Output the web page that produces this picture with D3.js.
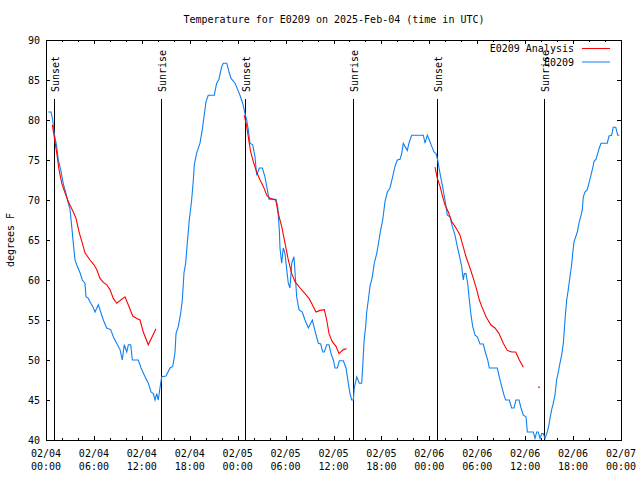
<!DOCTYPE html>
<html>
<head>
<meta charset="utf-8">
<script src="https://cdn.jsdelivr.net/npm/d3@7"></script>
<style>
  html, body { margin: 0; padding: 0; background: #fff; }
  svg { display: block; }
  text { font-family: "DejaVu Sans Mono", "Liberation Mono", monospace; font-size: 10px; fill: #000; }
</style>
</head>
<body>
<svg id="chart" width="640" height="480"></svg>
<script>
// ---- data (hours since 2025-02-04 00:00 UTC, degrees F) ----
const title = "Temperature for E0209 on 2025-Feb-04 (time in UTC)";
const yLabel = "degrees F";
const seriesNames = ["E0209 Analysis", "E0209"];

const xTickHours = [0, 6, 12, 18, 24, 30, 36, 42, 48, 54, 60, 66, 72];
const xTickDates = ["02/04","02/04","02/04","02/04","02/05","02/05","02/05","02/05","02/06","02/06","02/06","02/06","02/07"];
const xTickTimes = ["00:00","06:00","12:00","18:00","00:00","06:00","12:00","18:00","00:00","06:00","12:00","18:00","00:00"];
const yTicks = [40, 45, 50, 55, 60, 65, 70, 75, 80, 85, 90];

const sunEvents = [
  [1.04, "Sunset"], [14.44, "Sunrise"],
  [24.96, "Sunset"], [38.48, "Sunrise"],
  [49.0, "Sunset"], [62.4, "Sunrise"]
];

// observed (blue)
const observed = [
  [0.29,81],[0.63,81],[0.84,80],[1.00,78.5],[1.34,76.7],[1.54,75],[1.84,73.8],[2.17,72],[2.50,70.8],[2.79,69.6],
  [3.01,68.8],[3.22,66.7],[3.42,64.6],[3.63,62.5],[3.84,61.9],[4.26,60.9],[4.55,60],[4.88,59.6],[5.01,57.9],[5.30,57.7],
  [5.60,57.1],[5.85,56.7],[6.14,56],[6.55,56.9],[6.85,56],[7.18,55],[7.60,54],[8.10,53.8],[8.43,52.9],[8.85,52.1],
  [9.27,51.3],[9.55,50],[9.80,51.9],[10.11,51],[10.31,51.9],[10.61,51.9],[10.81,50],[11.56,50],[11.90,49],[12.40,47.9],
  [12.81,47.1],[13.15,46],[13.44,45.8],[13.65,45],[13.86,45.8],[14.06,45],[14.27,46.5],[14.49,47.9],[15.03,48],[15.53,49],
  [15.87,49.2],[16.15,50.9],[16.28,53.3],[16.57,54.2],[16.87,55.9],[17.07,57.5],[17.28,60.9],[17.49,62.1],[17.69,64.6],[17.94,67.5],
  [18.24,70],[18.45,72.5],[18.57,74.4],[18.87,75.9],[19.28,77.1],[19.57,78.8],[19.78,80.4],[20.04,82.3],[20.32,83.1],[21.07,83.1],
  [21.37,84.6],[21.66,85.1],[22.00,86.7],[22.20,87.1],[22.63,87.1],[22.92,86],[23.17,85.2],[23.67,84.6],[24.00,83.8],[24.29,83.1],
  [24.63,82.1],[24.92,80.8],[25.13,80],[25.33,78.8],[25.54,77.1],[25.88,76.9],[26.17,75.4],[26.38,73.1],[26.71,74],[27.09,74],
  [27.42,72.9],[27.71,71.3],[27.92,70.1],[28.80,70.1],[29.01,69.2],[29.21,66.3],[29.30,64],[29.51,62.1],[29.71,64],[29.93,63.3],
  [30.14,61.3],[30.34,59.6],[30.55,59],[30.77,62.1],[31.05,62.9],[31.22,60.4],[31.39,57.9],[31.68,56.3],[32.09,56],[32.43,55],
  [32.85,54],[33.35,55],[33.77,53.3],[34.10,52.1],[34.40,52],[34.65,51],[34.85,51],[35.15,51.9],[35.44,51.9],[35.69,50.8],
  [35.98,50],[36.19,49],[36.48,49],[36.73,49.9],[37.23,49.9],[37.57,49],[37.85,47.1],[38.07,45.8],[38.28,45],[38.48,45],
  [38.60,46.5],[38.91,47.9],[39.23,47.1],[39.53,47.1],[39.66,49.2],[39.82,52.3],[40.03,54.2],[40.16,56],[40.36,57.5],[40.57,59.2],
  [40.86,60.4],[41.11,62.1],[41.41,63.3],[41.70,65],[41.91,66.3],[42.16,67.5],[42.45,69.8],[42.74,71],[43.07,71.5],[43.36,72.7],
  [43.70,74.2],[43.99,75],[44.33,75.1],[44.54,75.8],[44.74,77.1],[44.95,76.7],[45.24,76.2],[45.45,77.1],[45.79,78.1],[47.25,78.1],
  [47.46,77.1],[47.75,78.1],[48.00,77.5],[48.30,76.7],[48.59,76],[48.84,75.8],[49.05,75],[49.34,73.3],[49.62,71.9],[49.96,70],
  [50.25,68.1],[50.59,67.9],[50.88,66.7],[51.21,65.6],[51.50,64.2],[51.75,63.1],[52.05,61.7],[52.25,60],[52.38,60.8],[52.59,60.8],
  [52.80,59.6],[53.01,57.5],[53.22,55.6],[53.43,54.2],[53.72,53.1],[54.01,52.9],[54.35,52],[54.76,52],[55.06,50.8],[55.31,50],
  [55.51,49],[56.51,49],[56.76,47.9],[57.06,46.7],[57.35,45.6],[57.56,45],[58.01,45],[58.31,44],[58.60,44],[58.85,45],
  [59.23,45],[59.48,44],[59.77,43.1],[60.11,42.9],[60.27,41],[61.02,41],[61.23,40.2],[61.44,41],[61.64,41],[61.86,40.2],
  [62.07,40.8],[62.27,40.8],[62.48,40.2],[62.70,40.8],[62.90,41.5],[63.11,42.7],[63.32,43.8],[63.52,44.6],[63.73,45.6],[63.94,47.5],
  [64.15,48.5],[64.36,49.6],[64.57,50.6],[64.78,52.1],[64.99,55],[65.20,57.5],[65.40,58.8],[65.61,60.4],[65.82,61.9],[65.95,63.3],
  [66.12,64.8],[66.33,65.4],[66.53,66],[66.74,67.1],[66.95,67.9],[67.16,68.8],[67.28,70.4],[67.49,71],[67.78,71.3],[68.03,72.3],
  [68.24,73.1],[68.46,74],[68.62,74.8],[68.87,75.1],[69.08,75.8],[69.28,76.5],[69.50,77.1],[70.28,77.1],[70.50,78],[70.83,78.1],
  [71.03,79.1],[71.34,79.1],[71.59,78.1],[71.79,78.1]
];

// analysis (red), three runs plus one isolated value
const analysisRun1 = [
  [0.79,79.4],[1.00,78.1],[1.34,75.9],[1.63,73.8],[1.97,72.1],[2.38,70.9],[2.79,69.8],[3.09,69.2],[3.42,68.5],[3.76,67.7],
  [4.17,65.9],[4.55,64.6],[4.88,63.4],[5.51,62.5],[6.01,61.9],[6.35,61.3],[6.76,60.2],[7.18,59.7],[7.60,59.4],[8.01,58.8],
  [8.43,57.7],[8.85,57.1],[9.89,57.9],[10.30,56.9],[10.86,55.5],[11.36,55.2],[11.77,55],[12.18,53.5],[12.81,51.9],[13.77,53.9]
];
const analysisRun2 = [
  [24.83,80.6],[25.13,79.2],[25.42,77.3],[25.63,76],[25.96,74.8],[26.38,73.5],[26.80,72.5],[27.21,71.7],[27.64,70.6],[28.05,70.2],
  [28.76,70],[29.09,68.3],[29.51,66.7],[29.93,64.6],[30.34,62.5],[30.77,60.8],[31.18,59.8],[31.81,59],[32.43,58.3],[32.93,57.7],
  [33.35,56.9],[33.81,56],[34.31,56.2],[34.85,56.3],[35.15,55],[35.44,53.3],[35.85,52.3],[36.31,51.7],[36.69,50.8],[37.23,51.3],
  [37.65,51.4]
];
const analysisRun3 = [
  [48.71,74.1],[49.00,72.7],[49.34,71.7],[49.67,70.4],[49.96,69.4],[50.38,68.5],[50.80,67.3],[51.21,66.7],[51.63,66],[51.84,65.6],
  [52.18,64.4],[52.59,62.9],[53.09,61.5],[53.51,60.2],[53.93,58.8],[54.26,57.5],[54.56,56.7],[55.10,55.4],[55.69,54.4],[56.22,54],
  [56.73,53.3],[57.26,52.1],[57.76,51.2],[58.32,51],[58.82,51],[59.27,50],[59.77,49.1]
];
const analysisIsolated = [[61.73,46.6]];

// ---- drawing ----
const mLeft = 46, mRight = 621, mTop = 40, mBottom = 440;
const redColor = "#ff0000", blueColor = "#0f80f0";

const svg = d3.select("#chart");
const x = d3.scaleLinear().domain([0, 72]).range([mLeft, mRight]);
const y = d3.scaleLinear().domain([40, 90]).range([mBottom, mTop]);

svg.append("clipPath").attr("id", "clip")
  .append("rect").attr("x", mLeft).attr("y", mTop).attr("width", mRight - mLeft).attr("height", mBottom - mTop);

const plot = svg.append("g");

// sunrise / sunset lines
const sun = plot.append("g");
sun.selectAll("line").data(sunEvents).join("line")
  .attr("x1", d => Math.round(x(d[0])) + 0.5).attr("x2", d => Math.round(x(d[0])) + 0.5)
  .attr("y1", 99).attr("y2", mBottom)
  .attr("stroke", "#000").attr("stroke-width", 1);
sun.selectAll("text").data(sunEvents).join("text")
  .attr("transform", d => `translate(${Math.round(x(d[0])) + 5},92) rotate(-90)`)
  .attr("text-anchor", "start")
  .text(d => d[1]);

// lines
const line = d3.line().x(d => x(d[0])).y(d => y(d[1]));
const lines = plot.append("g").attr("clip-path", "url(#clip)");
lines.append("path").datum(observed)
  .attr("d", line).attr("fill", "none").attr("stroke", blueColor).attr("stroke-width", 1.1);
[analysisRun1, analysisRun2, analysisRun3].forEach(run => {
  lines.append("path").datum(run)
    .attr("d", line).attr("fill", "none").attr("stroke", redColor).attr("stroke-width", 1.1);
});
lines.selectAll("rect.iso").data(analysisIsolated).join("rect").attr("class", "iso")
  .attr("x", d => x(d[0]) - 0.75).attr("y", d => y(d[1]) - 0.75)
  .attr("width", 1.5).attr("height", 1.5).attr("fill", redColor);

// axes with inward ticks (major 6h, minor 2h)
const minorHours = d3.range(0, 73, 2).filter(h => h % 6 !== 0);
const axes = svg.append("g").attr("shape-rendering", "crispEdges");
function hTicks(vals, len) {
  vals.forEach(h => {
    const px = Math.round(x(h)) + 0.5;
    axes.append("line").attr("x1", px).attr("x2", px).attr("y1", mBottom).attr("y2", mBottom - len).attr("stroke", "#000");
    axes.append("line").attr("x1", px).attr("x2", px).attr("y1", mTop).attr("y2", mTop + len).attr("stroke", "#000");
  });
}
hTicks(xTickHours, 4);
hTicks(minorHours, 2);
yTicks.forEach(v => {
  const py = Math.round(y(v)) + 0.5;
  axes.append("line").attr("x1", mLeft).attr("x2", mLeft + 4).attr("y1", py).attr("y2", py).attr("stroke", "#000");
  axes.append("line").attr("x1", mRight).attr("x2", mRight - 4).attr("y1", py).attr("y2", py).attr("stroke", "#000");
});
axes.append("rect").attr("x", mLeft + 0.5).attr("y", mTop + 0.5)
  .attr("width", mRight - mLeft).attr("height", mBottom - mTop)
  .attr("fill", "none").attr("stroke", "#000");

// tick labels
svg.append("g").selectAll("text").data(yTicks).join("text")
  .attr("x", 40).attr("y", d => y(d) + 3.6).attr("text-anchor", "end").text(d => d);
const xl = svg.append("g").selectAll("g").data(xTickHours).join("g");
xl.append("text").attr("x", d => x(d)).attr("y", 457).attr("text-anchor", "middle").text((d, i) => xTickDates[i]);
xl.append("text").attr("x", d => x(d)).attr("y", 470).attr("text-anchor", "middle").text((d, i) => xTickTimes[i]);

// title and axis label
svg.append("text").attr("x", 334).attr("y", 23).attr("text-anchor", "middle").text(title);
svg.append("text").attr("transform", "translate(14,240) rotate(-90)").attr("text-anchor", "middle").text(yLabel);

// legend
const legend = svg.append("g");
const legColors = [redColor, blueColor];
legend.selectAll("text").data(seriesNames).join("text")
  .attr("x", 574).attr("y", (d, i) => 52 + i * 13.5).attr("text-anchor", "end").text(d => d);
legend.selectAll("line").data(seriesNames).join("line")
  .attr("x1", 582).attr("x2", 610)
  .attr("y1", (d, i) => 48.5 + i * 13.5).attr("y2", (d, i) => 48.5 + i * 13.5)
  .attr("stroke", (d, i) => legColors[i]).attr("stroke-width", 1);
</script>
</body>
</html>
